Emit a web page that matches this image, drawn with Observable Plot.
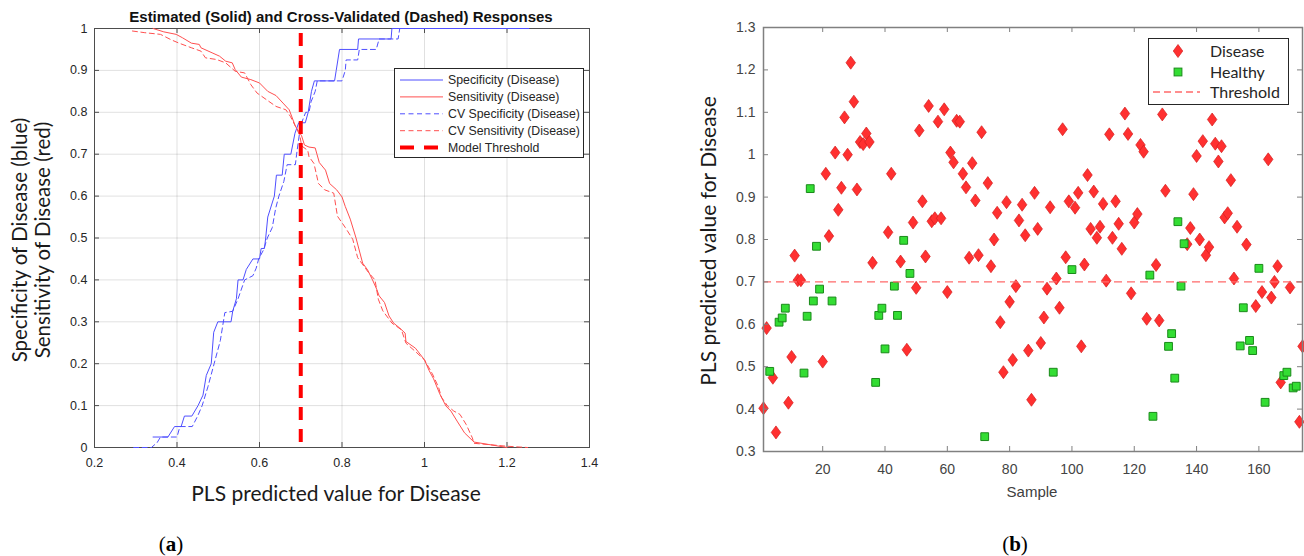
<!DOCTYPE html>
<html><head><meta charset="utf-8">
<script src="https://cdn.jsdelivr.net/npm/d3@7"></script>
<script src="https://cdn.jsdelivr.net/npm/@observablehq/plot@0.6"></script>
<style>
body{margin:0;background:#fff}
#wrap{position:relative;width:1304px;height:556px;overflow:hidden;background:#fff}
</style></head><body><div id="wrap"></div>
<script>
// ---------- Panel (a) data: step curves ----------
const specX = [0.342,0.378,0.394,0.41,0.418,0.436,0.451,0.463,0.471,0.483,0.489,0.499,0.531,0.535,0.544,0.548,0.56,0.568,0.584,0.60,0.604,0.612,0.615,0.62,0.636,0.641,0.655,0.66,0.676,0.686,0.695,0.711,0.718,0.726,0.733,0.782,0.786,0.794,0.838,0.840,0.919,0.921,1.253];
const specY = [0.025,0.025,0.05,0.05,0.075,0.075,0.10,0.125,0.172,0.20,0.275,0.30,0.30,0.325,0.355,0.40,0.40,0.425,0.45,0.45,0.475,0.475,0.50,0.55,0.60,0.65,0.65,0.70,0.70,0.75,0.775,0.775,0.80,0.85,0.875,0.875,0.90,0.95,0.95,0.975,0.975,1.0,1.0];
const sensX = [0.342,0.368,0.398,0.413,0.435,0.454,0.458,0.485,0.503,0.518,0.534,0.541,0.556,0.579,0.60,0.62,0.64,0.657,0.672,0.687,0.702,0.709,0.72,0.735,0.745,0.76,0.77,0.787,0.80,0.808,0.82,0.834,0.85,0.862,0.874,0.884,0.89,0.903,0.914,0.925,0.94,0.953,0.955,0.978,1.0,1.011,1.022,1.037,1.052,1.064,1.079,1.097,1.12,1.20];
const sensY = [1.0,0.992,0.986,0.978,0.965,0.962,0.954,0.942,0.934,0.922,0.918,0.902,0.884,0.878,0.87,0.85,0.84,0.822,0.806,0.767,0.744,0.722,0.717,0.715,0.68,0.662,0.63,0.615,0.598,0.575,0.545,0.50,0.44,0.424,0.40,0.378,0.362,0.346,0.314,0.297,0.285,0.273,0.253,0.237,0.209,0.184,0.164,0.128,0.099,0.087,0.063,0.035,0.013,0.0];
const cvSpecX = [0.295,0.338,0.352,0.36,0.40,0.407,0.437,0.45,0.461,0.475,0.49,0.505,0.516,0.535,0.548,0.564,0.584,0.592,0.598,0.61,0.619,0.631,0.639,0.647,0.659,0.667,0.687,0.69,0.697,0.702,0.712,0.72,0.725,0.735,0.74,0.80,0.808,0.81,0.838,0.842,0.883,0.89,0.936,0.94,1.25];
const cvSpecY = [0.0,0.0,0.012,0.025,0.025,0.05,0.05,0.075,0.10,0.145,0.20,0.255,0.322,0.325,0.355,0.40,0.41,0.428,0.45,0.472,0.50,0.525,0.57,0.60,0.635,0.675,0.675,0.70,0.75,0.775,0.80,0.80,0.825,0.85,0.875,0.875,0.90,0.925,0.925,0.95,0.95,0.975,0.975,1.0,1.0];
const cvSensX = [0.292,0.322,0.36,0.386,0.405,0.435,0.458,0.469,0.496,0.518,0.541,0.564,0.579,0.594,0.617,0.64,0.664,0.675,0.687,0.698,0.702,0.717,0.72,0.732,0.743,0.758,0.78,0.789,0.808,0.826,0.838,0.864,0.88,0.888,0.899,0.921,0.944,0.955,0.978,1.0,1.019,1.034,1.041,1.056,1.071,1.086,1.101,1.116,1.12,1.2,1.25];
const cvSensY = [0.994,0.99,0.986,0.973,0.965,0.954,0.946,0.93,0.926,0.918,0.898,0.894,0.866,0.846,0.83,0.814,0.806,0.79,0.767,0.744,0.72,0.709,0.694,0.678,0.63,0.615,0.607,0.552,0.525,0.497,0.453,0.418,0.40,0.354,0.326,0.297,0.281,0.249,0.229,0.209,0.176,0.144,0.12,0.099,0.087,0.079,0.055,0.023,0.01,0.003,0.0];
const threshold = 0.7;
const xTicksA = [0.2,0.4,0.6,0.8,1,1.2,1.4];
const yTicksA = [0,0.1,0.2,0.3,0.4,0.5,0.6,0.7,0.8,0.9,1];

// ---------- Panel (b) data: PLS predictions per sample ----------
const diseaseSample = [1,2,4,5,9,10,11,12,13,20,21,22,24,25,26,27,28,29,30,31,32,33,34,35,36,41,42,45,47,49,50,51,52,53,54,55,56,57,58,59,60,61,62,63,64,65,66,67,68,69,70,71,73,74,75,76,77,78,79,80,81,82,83,84,85,86,87,88,89,90,91,92,93,95,96,97,98,99,101,102,103,104,105,106,107,108,109,110,111,112,113,114,115,116,117,118,119,120,121,122,123,124,127,128,129,130,137,138,139,140,141,142,143,144,145,146,147,148,149,150,151,152,153,156,159,161,163,164,165,166,167,170,173,174];
const diseaseValue = [0.402,0.591,0.474,0.345,0.415,0.523,0.762,0.704,0.704,0.512,0.955,0.808,1.005,0.870,0.922,1.088,1.000,1.217,1.125,0.918,1.030,1.025,1.050,1.030,0.745,0.817,0.955,0.748,0.540,0.840,0.686,1.057,0.890,0.760,1.115,0.843,0.850,1.078,0.850,1.107,0.676,1.005,0.982,1.080,1.078,0.955,0.923,0.757,0.980,0.892,0.763,1.053,0.933,0.737,0.800,0.863,0.605,0.487,0.888,0.653,0.516,0.690,0.845,0.882,0.810,0.538,0.422,0.910,0.825,0.556,0.616,0.684,0.876,0.708,0.639,1.060,0.758,0.890,0.875,0.910,0.548,0.741,0.952,0.825,0.913,0.804,0.830,0.884,0.703,1.048,0.804,0.890,0.837,0.778,1.097,1.049,0.673,0.840,0.860,1.023,1.007,0.613,0.740,0.609,1.095,0.915,0.789,0.827,0.907,0.997,0.800,1.032,0.763,0.782,1.083,1.026,0.984,1.020,0.852,0.862,0.940,0.708,0.830,0.788,0.643,0.676,0.989,0.663,0.700,0.737,0.463,0.687,0.370,0.548];
const healthySample = [3,6,7,8,14,15,16,17,18,19,23,37,38,39,40,43,44,46,48,72,94,100,125,126,131,132,133,134,135,136,154,155,157,158,160,162,168,169,171,172];
const healthyValue = [0.489,0.605,0.615,0.638,0.485,0.619,0.920,0.655,0.784,0.683,0.655,0.463,0.621,0.638,0.542,0.690,0.621,0.798,0.720,0.335,0.487,0.729,0.716,0.383,0.548,0.578,0.473,0.842,0.690,0.790,0.549,0.639,0.562,0.538,0.732,0.416,0.479,0.487,0.450,0.454];
const sampleDomain = [1, 174];
const valueDomain = [0.3, 1.3];
const xTicksB = [20,40,60,80,100,120,140,160];
const yTicksB = [0.3,0.4,0.5,0.6,0.7,0.8,0.9,1,1.1,1.2,1.3];

// ---------- helpers ----------
const wrap = document.getElementById("wrap");
const zip = (xs, ys) => xs.map((x, i) => ({x, y: ys[i]}));
const fmt = d3.format("~g");
const BLUE = "#4f4fff", RED = "#ff4f4f";

// ---------- Panel (a) ----------
const WA = 620, HA = 480, mlA = 94, mrA = 31, mtA = 28, mbA = 33;
const fwA = WA - mlA - mrA, fhA = HA - mtA - mbA;
const plotA = Plot.plot({
  width: WA, height: HA,
  marginLeft: mlA, marginRight: mrA, marginTop: mtA, marginBottom: mbA,
  x: {domain: [0.2, 1.4]},
  y: {domain: [0, 1]},
  style: {fontFamily: "'Liberation Sans', Arial, sans-serif", color: "#262626", background: "transparent", overflow: "visible"},
  marks: [
    Plot.gridX(xTicksA, {stroke: "#000", strokeOpacity: 0.12}),
    Plot.gridY(yTicksA, {stroke: "#000", strokeOpacity: 0.12}),
    Plot.frame({stroke: "#4d4d4d"}),
    Plot.tickX(xTicksA, {x: d => d, insetTop: fhA - 5, stroke: "#4d4d4d"}),
    Plot.tickX(xTicksA, {x: d => d, insetBottom: fhA - 5, stroke: "#4d4d4d"}),
    Plot.tickY(yTicksA, {y: d => d, insetRight: fwA - 5, stroke: "#4d4d4d"}),
    Plot.tickY(yTicksA, {y: d => d, insetLeft: fwA - 5, stroke: "#4d4d4d"}),
    Plot.line(zip(cvSpecX, cvSpecY), {x: "x", y: "y", stroke: BLUE, strokeWidth: 1, strokeDasharray: "5,3.5"}),
    Plot.line(zip(cvSensX, cvSensY), {x: "x", y: "y", stroke: RED, strokeWidth: 1, strokeDasharray: "5,3.5"}),
    Plot.line(zip(specX, specY), {x: "x", y: "y", stroke: BLUE, strokeWidth: 1}),
    Plot.line(zip(sensX, sensY), {x: "x", y: "y", stroke: RED, strokeWidth: 1}),
    Plot.ruleX([threshold], {x: d => d, y1: 0, y2: 1, stroke: "#ff0000", strokeWidth: 4, strokeDasharray: "13,9", strokeDashoffset: -5}),
    Plot.axisX(xTicksA, {anchor: "bottom", tickSize: 0, tickPadding: 11, tickFormat: fmt, label: null, fontSize: 12.5}),
    Plot.axisY(yTicksA, {anchor: "left", tickSize: 0, tickPadding: 7, tickFormat: fmt, label: null, fontSize: 12.5})
  ]
});
plotA.style.position = "absolute"; plotA.style.left = "0px"; plotA.style.top = "0px";
wrap.appendChild(plotA);

// ---------- Panel (b) ----------
const tallDiamond = {draw(context, size) {
  const r = Math.sqrt(size / Math.PI);
  context.moveTo(0, -1.3 * r); context.lineTo(0.95 * r, 0);
  context.lineTo(0, 1.3 * r); context.lineTo(-0.95 * r, 0); context.closePath();
}};
const WB = 654, HB = 480, mlB = 113, mrB = 2, mtB = 27, mbB = 29;
const fwB = WB - mlB - mrB, fhB = HB - mtB - mbB;
const plotB = Plot.plot({
  width: WB, height: HB,
  marginLeft: mlB, marginRight: mrB, marginTop: mtB, marginBottom: mbB,
  x: {domain: sampleDomain},
  y: {domain: valueDomain},
  style: {fontFamily: "'Liberation Sans', Arial, sans-serif", color: "#444", background: "transparent", overflow: "visible"},
  marks: [
    Plot.dot(zip(diseaseSample, diseaseValue), {x: "x", y: "y", symbol: tallDiamond, r: 5, fill: "#ff3030", stroke: "#d41c1c", strokeWidth: 0.7}),
    Plot.dot(zip(healthySample, healthyValue), {x: "x", y: "y", symbol: "square", r: 4.4, fill: "#33dd33", stroke: "#1a8a1a", strokeWidth: 1}),
    Plot.ruleY([threshold], {y: d => d, stroke: "#ff6a6a", strokeWidth: 1.4, strokeDasharray: "8,5"}),
    Plot.frame({stroke: "#808080", strokeWidth: 1.5}),
    Plot.tickX(xTicksB, {x: d => d, insetTop: fhB - 5, stroke: "#808080"}),
    Plot.tickX(xTicksB, {x: d => d, insetBottom: fhB - 5, stroke: "#808080"}),
    Plot.tickY(yTicksB, {y: d => d, insetRight: fwB - 5, stroke: "#808080"}),
    Plot.tickY(yTicksB, {y: d => d, insetLeft: fwB - 5, stroke: "#808080"}),
    Plot.axisX(xTicksB, {anchor: "bottom", tickSize: 0, tickPadding: 13, tickFormat: fmt, label: null, fontSize: 14}),
    Plot.axisY(yTicksB, {anchor: "left", tickSize: 0, tickPadding: 8, tickFormat: fmt, label: null, fontSize: 14})
  ]
});
plotB.style.position = "absolute"; plotB.style.left = "650px"; plotB.style.top = "0px";
wrap.appendChild(plotB);

// ---------- Text overlays ----------
function label(html, cx, cy, css, rotate) {
  const d = document.createElement("div");
  d.innerHTML = html;
  d.style.cssText = `position:absolute;left:${cx}px;top:${cy}px;white-space:nowrap;line-height:1.15;text-align:center;transform:translate(-50%,-50%)${rotate ? " rotate(-90deg)" : ""};` + css;
  wrap.appendChild(d);
}
const calib = "font-family:Lato,'Open Sans',sans-serif;";
label("Estimated (Solid) and Cross-Validated (Dashed) Responses", 341, 17, "font-family:'Liberation Sans',Arial,sans-serif;font-weight:bold;font-size:15px;color:#111;");
label("Specificity of Disease (blue)<br>Sensitivity of Disease (red)", 31, 240, calib + "font-size:20.5px;color:#1a1a1a;line-height:23px;", true);
label("PLS predicted value for Disease", 336, 493, calib + "font-size:21px;color:#1a1a1a;");
label("PLS predicted value for Disease", 708, 241, calib + "font-size:21px;color:#1a1a1a;", true);
label("Sample", 1032, 492, "font-family:'Liberation Sans',Arial,sans-serif;font-size:15px;color:#404040;");
label("(<b>a</b>)", 171, 544, "font-family:'Liberation Serif','DejaVu Serif',serif;font-size:21px;color:#000;");
label("(<b>b</b>)", 1015, 544, "font-family:'Liberation Serif','DejaVu Serif',serif;font-size:21px;color:#000;");

// ---------- Legends ----------
const ns = "http://www.w3.org/2000/svg";
const leg = document.createElementNS(ns, "svg");
leg.setAttribute("width", 1304); leg.setAttribute("height", 556);
leg.style.cssText = "position:absolute;left:0;top:0;pointer-events:none";
const legA = [
  {t: "Specificity (Disease)", c: BLUE, w: 1, d: null},
  {t: "Sensitivity (Disease)", c: RED, w: 1, d: null},
  {t: "CV Specificity (Disease)", c: BLUE, w: 1, d: "5,3.5"},
  {t: "CV Sensitivity (Disease)", c: RED, w: 1, d: "5,3.5"},
  {t: "Model Threshold", c: "#ff0000", w: 4, d: "14,10"}
];
let s = `<rect x="394.5" y="68.5" width="189" height="89" fill="#fff" stroke="#262626"/>`;
legA.forEach((e, i) => {
  const y = 80 + i * 16.9;
  s += `<line x1="400" x2="443" y1="${y}" y2="${y}" stroke="${e.c}" stroke-width="${e.w}" ${e.d ? `stroke-dasharray="${e.d}"` : ""}/>`;
  s += `<text x="448" y="${y}" dy="0.35em" font-family="'Liberation Sans',Arial,sans-serif" font-size="12.3" fill="#262626">${e.t}</text>`;
});
s += `<rect x="1148.5" y="38.5" width="140" height="66" fill="#fff" stroke="#262626"/>`;
s += `<path d="M1178,44.5L1182.75,51L1178,57.5L1173.25,51Z" fill="#ff3030" stroke="#d41c1c" stroke-width="0.7"/>`;
s += `<rect x="1174.1" y="68.1" width="7.8" height="7.8" fill="#33dd33" stroke="#1a8a1a"/>`;
s += `<line x1="1153" x2="1200" y1="92" y2="92" stroke="#ff6a6a" stroke-width="1.4" stroke-dasharray="7,4"/>`;
[["Disease", 51], ["Healthy", 72], ["Threshold", 92]].forEach(([t, y]) => {
  s += `<text x="1210" y="${y}" dy="0.35em" font-family="Lato,'Open Sans',sans-serif" font-size="16" fill="#262626">${t}</text>`;
});
leg.innerHTML = s;
wrap.appendChild(leg);
</script></body></html>
